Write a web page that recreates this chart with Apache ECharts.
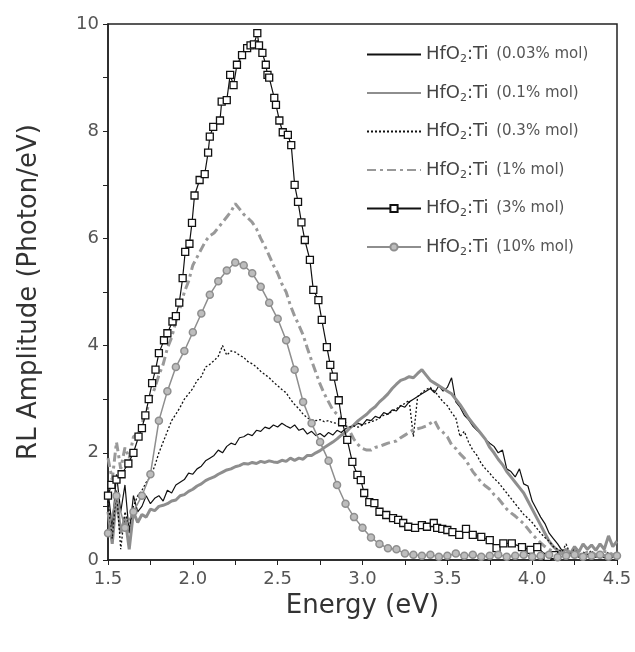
<!DOCTYPE html>
<html>
<head>
<meta charset="utf-8">
<script src="https://cdn.jsdelivr.net/npm/echarts@6/dist/echarts.min.js"></script>
<style>
  html, body { margin: 0; padding: 0; background: #fff; }
  #chart { width: 635px; height: 652px; }
</style>
</head>
<body>
<div id="chart"></div>
<script>
// energy grid of the four dense spectra (eV)
let energyFine = [
  1.5, 1.525, 1.55, 1.575, 1.6, 1.625, 1.65, 1.675, 1.7, 1.725,
  1.75, 1.775, 1.8, 1.825, 1.85, 1.875, 1.9, 1.925, 1.95, 1.975,
  2.0, 2.025, 2.05, 2.075, 2.1, 2.125, 2.15, 2.175, 2.2, 2.225,
  2.25, 2.275, 2.3, 2.325, 2.35, 2.375, 2.4, 2.425, 2.45, 2.475,
  2.5, 2.525, 2.55, 2.575, 2.6, 2.625, 2.65, 2.675, 2.7, 2.725,
  2.75, 2.775, 2.8, 2.825, 2.85, 2.875, 2.9, 2.925, 2.95, 2.975,
  3.0, 3.025, 3.05, 3.075, 3.1, 3.125, 3.15, 3.175, 3.2, 3.225,
  3.25, 3.275, 3.3, 3.325, 3.35, 3.375, 3.4, 3.425, 3.45, 3.475,
  3.5, 3.525, 3.55, 3.575, 3.6, 3.625, 3.65, 3.675, 3.7, 3.725,
  3.75, 3.775, 3.8, 3.825, 3.85, 3.875, 3.9, 3.925, 3.95, 3.975,
  4.0, 4.025, 4.05, 4.075, 4.1, 4.125, 4.15, 4.175, 4.2, 4.225,
  4.25, 4.275, 4.3, 4.325, 4.35, 4.375, 4.4, 4.425, 4.45, 4.475,
  4.5
];
// HfO2:Ti 0.03% mol
let rl003 = [
  1.3, 0.6, 1.6, 0.9, 1.4, 0.5, 1.2, 0.9, 1.0, 1.2,
  1.05, 1.15, 1.2, 1.1, 1.3, 1.25, 1.4, 1.45, 1.5, 1.62,
  1.6, 1.7, 1.75, 1.85, 1.9, 1.95, 2.05, 2.0, 2.12, 2.18,
  2.15, 2.28, 2.3, 2.35, 2.32, 2.42, 2.4, 2.48, 2.45, 2.52,
  2.48, 2.55, 2.5, 2.46, 2.52, 2.42, 2.45, 2.35, 2.4, 2.32,
  2.36, 2.3, 2.38, 2.33, 2.42, 2.38, 2.45, 2.48, 2.5, 2.55,
  2.52, 2.62, 2.6, 2.68, 2.65, 2.75, 2.72, 2.8, 2.78, 2.88,
  2.85, 2.95, 3.0, 3.05, 3.1, 3.15, 3.2, 3.12, 3.25, 3.15,
  3.22, 3.4, 2.95, 2.85, 2.7, 2.62, 2.5, 2.42, 2.35, 2.25,
  2.18, 2.12, 2.0, 2.05, 1.7, 1.65, 1.55, 1.7, 1.42, 1.38,
  1.1, 0.95, 0.8, 0.68, 0.5, 0.4, 0.3, 0.18, 0.1, 0.08,
  0.12, 0.05, 0.1, 0.06, 0.08, 0.05, 0.09, 0.04, 0.08, 0.05,
  0.1
];
// HfO2:Ti 0.1% mol
let rl01 = [
  0.9, 0.3, 1.2, 0.5, 0.8, 0.2, 0.9, 0.7, 0.85, 0.8,
  0.95, 0.92, 1.0, 1.02, 1.05, 1.1, 1.12, 1.2, 1.22, 1.28,
  1.32, 1.38, 1.42, 1.48, 1.52, 1.55, 1.6, 1.64, 1.68, 1.7,
  1.74, 1.76, 1.8, 1.79, 1.82, 1.8, 1.84, 1.82, 1.85, 1.83,
  1.82, 1.86, 1.84, 1.9, 1.86, 1.9, 1.88, 1.95, 1.95, 2.0,
  2.04, 2.1, 2.15, 2.2, 2.26, 2.33, 2.38, 2.46, 2.52, 2.6,
  2.66, 2.72, 2.8, 2.86, 2.95, 3.02, 3.1, 3.2, 3.28, 3.35,
  3.38, 3.42, 3.4, 3.48, 3.55, 3.45, 3.35, 3.3, 3.25, 3.2,
  3.15, 3.1, 3.0, 2.9, 2.78, 2.65, 2.55, 2.45, 2.35, 2.25,
  2.1, 2.0, 1.88, 1.78, 1.65, 1.55, 1.45, 1.35, 1.25, 1.1,
  0.95, 0.8, 0.65, 0.5, 0.35, 0.25, 0.18, 0.15, 0.2, 0.12,
  0.25, 0.15, 0.3, 0.2, 0.28, 0.18, 0.3, 0.2, 0.45, 0.25,
  0.35
];
// HfO2:Ti 0.3% mol
let rl03 = [
  1.1, 0.4, 1.3, 0.2, 0.9, 0.6, 1.0, 1.2, 1.3, 1.45,
  1.55, 1.75, 2.0, 2.2, 2.4, 2.6, 2.72, 2.85, 3.0, 3.1,
  3.2, 3.35, 3.42, 3.6, 3.65, 3.72, 3.8, 4.0, 3.82, 3.9,
  3.88, 3.82, 3.78, 3.7, 3.66, 3.6, 3.52, 3.46, 3.4, 3.32,
  3.25, 3.18, 3.12, 3.0, 2.9, 2.82, 2.72, 2.65, 2.62, 2.6,
  2.62, 2.58, 2.6, 2.56, 2.55, 2.52, 2.5, 2.48, 2.5, 2.48,
  2.52, 2.55, 2.58, 2.6, 2.65, 2.7, 2.72, 2.78, 2.82, 2.88,
  2.92, 2.98, 2.3, 3.05, 3.12, 3.18, 3.22, 3.15, 3.05, 2.95,
  2.88, 2.75, 2.65, 2.3, 2.4, 2.2, 2.05, 1.95, 1.8, 1.7,
  1.62, 1.52, 1.45, 1.35, 1.25, 1.15, 1.05, 0.95, 0.85, 0.78,
  0.7, 0.6, 0.5, 0.42, 0.35, 0.25, 0.2, 0.15, 0.3, 0.1,
  0.2, 0.08, 0.15, 0.1, 0.18, 0.06, 0.12, 0.08, 0.15, 0.05,
  0.1
];
// HfO2:Ti 1% mol
let rl1 = [
  1.9, 1.5, 2.2, 1.7, 2.1, 1.9, 2.3, 2.35, 2.55, 2.75,
  3.0, 3.2, 3.45, 3.65, 3.95, 4.15, 4.45, 4.7, 5.0, 5.2,
  5.5, 5.65, 5.8, 5.95, 6.05, 6.1, 6.2, 6.3, 6.4, 6.5,
  6.65, 6.55, 6.45, 6.38, 6.3, 6.18, 6.0, 5.85, 5.68, 5.5,
  5.35, 5.15, 5.0, 4.75, 4.55, 4.38, 4.2, 3.95, 3.72, 3.5,
  3.28, 3.1, 2.95, 2.8, 2.72, 2.62, 2.55, 2.4, 2.25, 2.15,
  2.08, 2.05, 2.05, 2.1, 2.12, 2.15, 2.18, 2.2, 2.22, 2.28,
  2.33, 2.38, 2.43, 2.45, 2.47, 2.5, 2.55, 2.6, 2.45, 2.38,
  2.3, 2.15, 2.08, 1.98, 1.9, 1.78, 1.65, 1.55, 1.45, 1.38,
  1.32, 1.22, 1.15, 1.05, 0.95, 0.88, 0.82, 0.75, 0.68, 0.58,
  0.48, 0.4, 0.32, 0.25, 0.2, 0.15, 0.15, 0.12, 0.12, 0.18,
  0.15, 0.1, 0.1, 0.15, 0.14, 0.1, 0.1, 0.16, 0.15, 0.1,
  0.12
];
// HfO2:Ti 3% mol (square markers)
let energy3 = [
  1.5, 1.52, 1.55, 1.58, 1.62, 1.65, 1.68, 1.7, 1.72, 1.74,
  1.76, 1.78, 1.8, 1.83, 1.85, 1.88, 1.9, 1.92, 1.94, 1.955,
  1.98, 1.995, 2.01, 2.04, 2.07, 2.09, 2.1, 2.12, 2.16, 2.17,
  2.2, 2.22, 2.24, 2.26, 2.29, 2.32, 2.34, 2.36, 2.38, 2.39,
  2.41, 2.43, 2.44, 2.45, 2.48, 2.49, 2.51, 2.53, 2.56, 2.58,
  2.6, 2.62, 2.64, 2.66, 2.69, 2.71, 2.74, 2.76, 2.79, 2.81,
  2.83, 2.86, 2.88, 2.91, 2.94, 2.97, 2.99, 3.01, 3.04, 3.07,
  3.1, 3.14, 3.18, 3.21, 3.24, 3.27, 3.31, 3.35, 3.38, 3.42,
  3.44, 3.47, 3.5, 3.53, 3.57, 3.61, 3.65, 3.7, 3.75, 3.79,
  3.83, 3.88, 3.94, 3.99, 4.03, 4.09, 4.13
];
let rl3 = [
  1.2, 1.4, 1.5, 1.6, 1.8, 2.0, 2.3, 2.46, 2.7, 3.0,
  3.3, 3.55, 3.86, 4.1, 4.23, 4.45, 4.55, 4.8, 5.26, 5.75,
  5.9, 6.29, 6.8, 7.09, 7.2, 7.6, 7.9, 8.08, 8.2, 8.55,
  8.58, 9.05, 8.86, 9.24, 9.42, 9.55, 9.6, 9.62, 9.83, 9.6,
  9.46, 9.24, 9.05, 9.0, 8.62, 8.49, 8.2, 7.98, 7.93, 7.74,
  7.0, 6.68, 6.3, 5.97, 5.6, 5.04, 4.85, 4.48, 3.97, 3.64,
  3.42, 2.98, 2.57, 2.24, 1.83, 1.59, 1.49, 1.25, 1.08, 1.06,
  0.9, 0.84, 0.78, 0.75, 0.69, 0.62, 0.6, 0.65, 0.62, 0.69,
  0.6, 0.58, 0.56, 0.52, 0.47, 0.58, 0.47, 0.43, 0.37, 0.22,
  0.31, 0.31, 0.24, 0.19, 0.24, 0.06, 0.09
];
// HfO2:Ti 10% mol (circle markers)
let energy10 = [
  1.5, 1.55, 1.6, 1.65, 1.7, 1.75, 1.8, 1.85, 1.9, 1.95,
  2.0, 2.05, 2.1, 2.15, 2.2, 2.25, 2.3, 2.35, 2.4, 2.45,
  2.5, 2.55, 2.6, 2.65, 2.7, 2.75, 2.8, 2.85, 2.9, 2.95,
  3.0, 3.05, 3.1, 3.15, 3.2, 3.25, 3.3, 3.35, 3.4, 3.45,
  3.5, 3.55, 3.6, 3.65, 3.7, 3.75, 3.8, 3.85, 3.9, 3.95,
  4.0, 4.05, 4.1, 4.15, 4.2, 4.25, 4.3, 4.35, 4.4, 4.45,
  4.5
];
let rl10 = [
  0.5, 1.2, 0.6, 0.9, 1.2, 1.6, 2.6, 3.15, 3.6, 3.9,
  4.25, 4.6, 4.95, 5.2, 5.4, 5.55, 5.5, 5.35, 5.1, 4.8,
  4.5, 4.1, 3.55, 2.95, 2.55, 2.2, 1.85, 1.4, 1.05, 0.8,
  0.6, 0.42, 0.3, 0.22, 0.2, 0.12, 0.1, 0.08, 0.1, 0.06,
  0.08, 0.12, 0.08, 0.1, 0.06, 0.08, 0.1, 0.06, 0.08, 0.1,
  0.06, 0.08, 0.1, 0.05, 0.08, 0.1, 0.06, 0.08, 0.1, 0.06,
  0.08
];
let seriesNames = ["0.03% mol", "0.1% mol", "0.3% mol", "1% mol", "3% mol", "10% mol"];

function pairs(xs, ys) {
  let out = [];
  for (let i = 0; i < ys.length; i++) out.push([xs[i], ys[i]]);
  return out;
}

let myChart = echarts.init(document.getElementById("chart"));
let font = "DejaVu Sans";
let gray = "#8e8e8e";
let noMark = { opacity: 0 };

let option = {
  animation: false,
  backgroundColor: "#fff",
  grid: {
    left: 108,
    right: 18,
    top: 24,
    bottom: 92,
    show: true,
    borderColor: "#222",
    borderWidth: 1.5
  },
  legend: {
    data: [
      { name: seriesNames[0], itemStyle: noMark },
      { name: seriesNames[1], itemStyle: noMark },
      { name: seriesNames[2], itemStyle: noMark },
      { name: seriesNames[3], itemStyle: noMark },
      { name: seriesNames[4] },
      { name: seriesNames[5] }
    ],
    orient: "vertical",
    left: 361,
    top: 39,
    itemWidth: 54,
    itemHeight: 9,
    itemGap: 17.5,
    formatter: function(name) {
      return "{a|HfO}{s|2}{a|:Ti}  {b|(" + name + ")}";
    },
    textStyle: {
      fontFamily: font,
      rich: {
        a: { fontFamily: font, fontSize: 18, color: "#444", lineHeight: 20 },
        s: { fontFamily: font, fontSize: 11, color: "#444", lineHeight: 20, padding: [10, 0, 0, 0] },
        b: { fontFamily: font, fontSize: 15, color: "#555", lineHeight: 20 }
      }
    }
  },
  xAxis: {
    type: "value",
    min: 1.5,
    max: 4.5,
    interval: 0.5,
    name: "Energy (eV)",
    nameLocation: "middle",
    nameGap: 31,
    nameTextStyle: { fontFamily: font, fontSize: 26, color: "#333" },
    axisLine: { onZero: false, lineStyle: { color: "#222", width: 1.5 } },
    axisTick: { inside: false, length: 5, lineStyle: { color: "#222" } },
    minorTick: { show: true, splitNumber: 2, length: 5, lineStyle: { color: "#222" } },
    axisLabel: {
      fontFamily: font,
      fontSize: 18,
      color: "#555",
      margin: 10,
      formatter: function(v) { return v.toFixed(1); }
    },
    splitLine: { show: false }
  },
  yAxis: {
    type: "value",
    min: 0,
    max: 10,
    interval: 2,
    name: "RL Amplitude (Photon/eV)",
    nameLocation: "middle",
    nameGap: 66,
    nameTextStyle: { fontFamily: font, fontSize: 26, color: "#333" },
    axisLine: { show: true, lineStyle: { color: "#222", width: 1.5 } },
    axisTick: { show: true, length: 5, lineStyle: { color: "#222" } },
    minorTick: { show: true, splitNumber: 2, length: 5, lineStyle: { color: "#222" } },
    axisLabel: { fontFamily: font, fontSize: 18, color: "#555", margin: 9 },
    splitLine: { show: false }
  },
  series: [
    {
      name: seriesNames[0],
      type: "line",
      data: pairs(energyFine, rl003),
      symbol: "none",
      lineStyle: { color: "#111", width: 1.2 },
      itemStyle: { color: "#111" }
    },
    {
      name: seriesNames[1],
      type: "line",
      data: pairs(energyFine, rl01),
      symbol: "none",
      lineStyle: { color: gray, width: 3 },
      itemStyle: { color: gray }
    },
    {
      name: seriesNames[2],
      type: "line",
      data: pairs(energyFine, rl03),
      symbol: "none",
      lineStyle: { color: "#111", width: 1.3, type: [2, 2] },
      itemStyle: { color: "#111" }
    },
    {
      name: seriesNames[3],
      type: "line",
      data: pairs(energyFine, rl1),
      symbol: "none",
      lineStyle: { color: "#999", width: 3, type: [9, 4, 3, 4] },
      itemStyle: { color: "#999" }
    },
    {
      name: seriesNames[4],
      type: "line",
      data: pairs(energy3, rl3),
      symbol: "rect",
      symbolSize: 7,
      showAllSymbol: true,
      lineStyle: { color: "#111", width: 1.2 },
      itemStyle: { color: "#fff", borderColor: "#111", borderWidth: 1.3 }
    },
    {
      name: seriesNames[5],
      type: "line",
      data: pairs(energy10, rl10),
      symbol: "circle",
      symbolSize: 7,
      showAllSymbol: true,
      lineStyle: { color: gray, width: 1.5 },
      itemStyle: { color: "#bdbdbd", borderColor: gray, borderWidth: 1.5 }
    }
  ]
};
myChart.setOption(option);
</script>
</body>
</html>
